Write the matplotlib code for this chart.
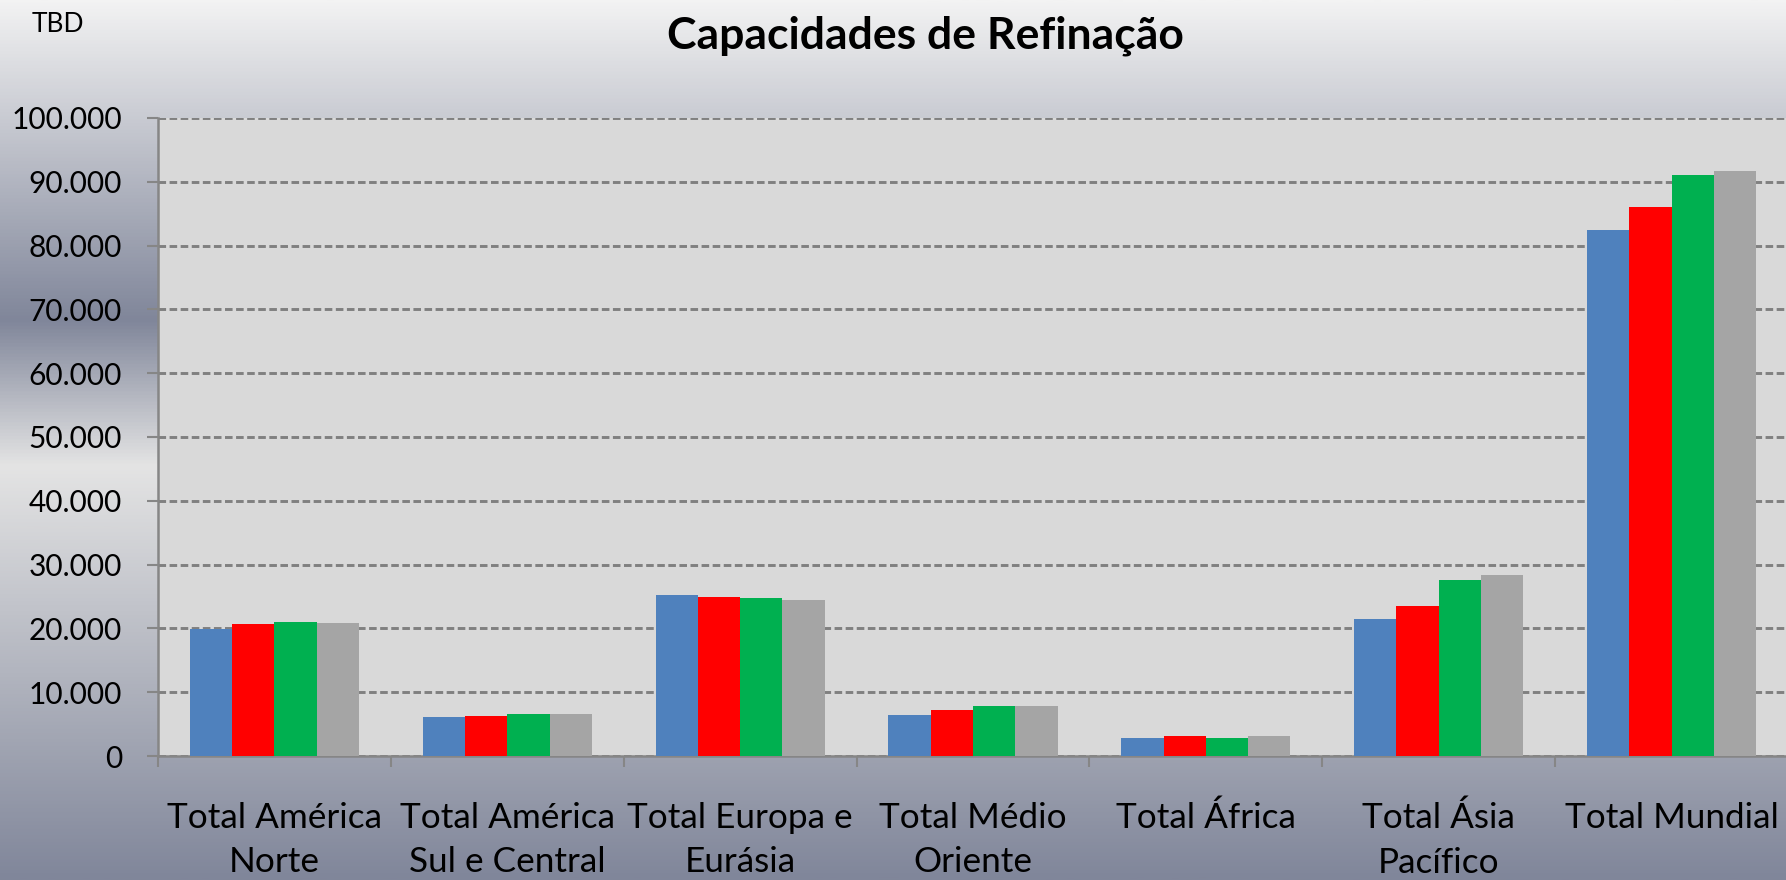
import numpy as np
import matplotlib
matplotlib.use("Agg")
import matplotlib.pyplot as plt
from matplotlib.colors import LinearSegmentedColormap
from matplotlib.ticker import FuncFormatter, MultipleLocator, FixedLocator

plt.rcParams['font.family'] = ['Lato', 'DejaVu Sans']

categories = ["Total América\nNorte", "Total América\nSul e Central", "Total Europa e\nEurásia",
              "Total Médio\nOriente", "Total África", "Total Ásia\nPacífico", "Total Mundial"]
series_1 = [19840, 6090, 25300, 6490, 2760, 21460, 82450]
series_2 = [20680, 6250, 24940, 7230, 3080, 23500, 86110]
series_3 = [21050, 6510, 24720, 7760, 2870, 27560, 90990]
series_4 = [20890, 6560, 24410, 7870, 3190, 28340, 91730]
series = [series_1, series_2, series_3, series_4]
colors = ["#4f81bd", "#ff0000", "#00b050", "#a5a5a5"]

W, H = 1786, 880
fig = plt.figure(figsize=(W / 100, H / 100), dpi=100)

# background gradient
bg = fig.add_axes([0, 0, 1, 1], zorder=-10)
cmap = LinearSegmentedColormap.from_list(
    "bg", [(0.0, "#f3f3f3"), (0.364, "#80869a"), (0.53, "#e4e4e4"), (1.0, "#80869a")])
grad = np.linspace(0, 1, 512).reshape(-1, 1)
bg.imshow(grad, aspect="auto", cmap=cmap, extent=[0, 1, 1, 0])
bg.set_xlim(0, 1); bg.set_ylim(1, 0)
bg.axis("off")

left, right = 158 / W, 1788 / W
bottom, top = 1 - 756 / H, 1 - 118 / H
ax = fig.add_axes([left, bottom, right - left, top - bottom])
ax.set_facecolor("#d9d9d9")

x = np.arange(len(categories))
bw = 0.1815
for i, (vals, c) in enumerate(zip(series, colors)):
    ax.bar(x + (i - 1.5) * bw, vals, width=bw, color=c, zorder=3, linewidth=0)

ax.set_xlim(-0.5, len(categories) - 0.5)
ax.set_ylim(0, 100000)
ax.yaxis.set_major_locator(MultipleLocator(10000))
ax.yaxis.set_major_formatter(FuncFormatter(lambda v, p: f"{int(v):,}".replace(",", ".")))
ax.grid(axis="y", color="#808080", linestyle=(0, (2.6, 1.2)), linewidth=2.1, zorder=1)
ax.set_axisbelow(True)

ax.set_xticks(x)
ax.set_xticklabels(categories, fontsize=25.3, linespacing=1.48)
ax.xaxis.set_minor_locator(FixedLocator(np.arange(-0.5, len(categories), 1.0)))
ax.tick_params(axis="x", which="major", length=0, pad=33)
ax.tick_params(axis="x", which="minor", length=8, width=1.5, color="#868686", direction="out")
ax.tick_params(axis="y", which="major", length=8, width=1.5, color="#868686", direction="out",
               labelsize=21.5, pad=18)

for s in ["top", "right"]:
    ax.spines[s].set_visible(False)
for s in ["left", "bottom"]:
    ax.spines[s].set_color("#868686")
    ax.spines[s].set_linewidth(1.8)

fig.text(925 / W, 1 - 36 / H, "Capacidades de Refinação", ha="center", va="center",
         fontsize=32, fontweight="bold")
fig.text(58 / W, 1 - 24 / H, "TBD", ha="center", va="center", fontsize=19)

fig.savefig("out.png", dpi=100)
